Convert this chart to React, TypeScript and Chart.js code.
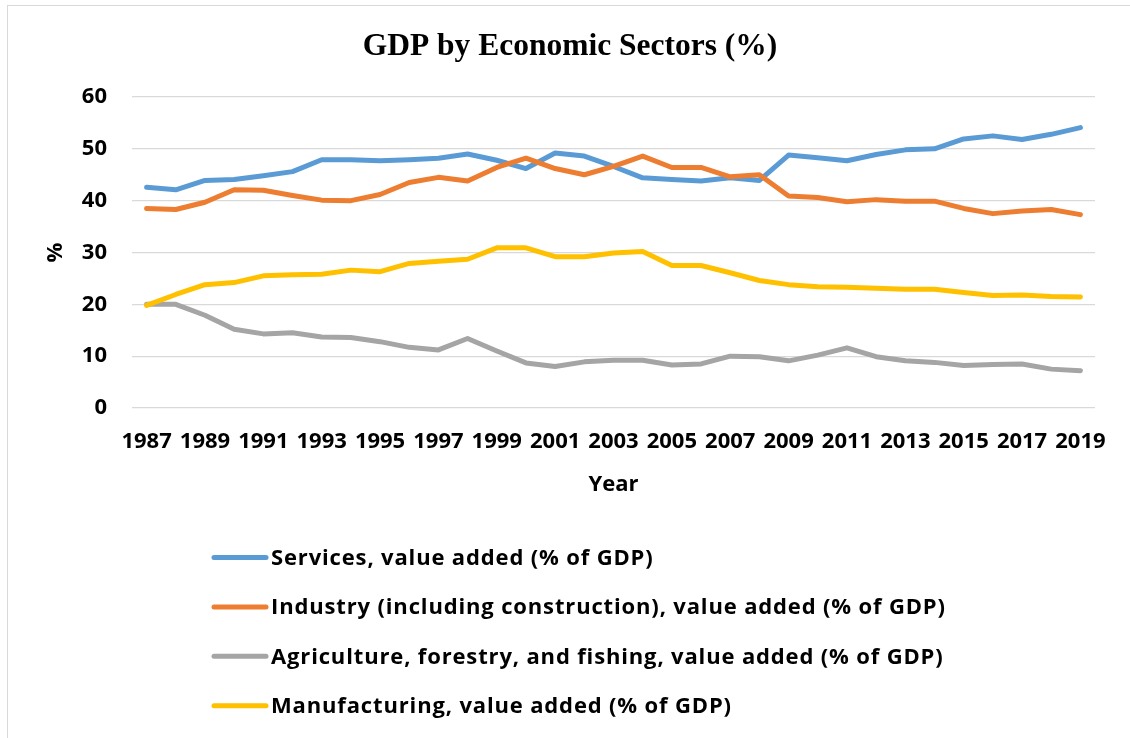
import React, { useEffect, useRef } from "react";
import { Chart, registerables } from "chart.js";

Chart.register(...registerables);

const years = [
  "1987", "1988", "1989", "1990", "1991", "1992", "1993", "1994", "1995", "1996", "1997",
  "1998", "1999", "2000", "2001", "2002", "2003", "2004", "2005", "2006", "2007", "2008",
  "2009", "2010", "2011", "2012", "2013", "2014", "2015", "2016", "2017", "2018", "2019",
];

const services = [
  42.6, 42.1, 43.9, 44.1, 44.8, 45.6, 47.9, 47.9, 47.7, 47.9, 48.2, 49.0,
  47.8, 46.2, 49.2, 48.6, 46.6, 44.4, 44.1, 43.8, 44.4, 43.9,
  48.8, 48.3, 47.7, 48.9, 49.8, 50.0, 51.9, 52.5, 51.8, 52.8, 54.1,
];

const industry = [
  38.5, 38.3, 39.7, 42.1, 42.0, 41.0, 40.1, 40.0, 41.2, 43.5, 44.5, 43.8,
  46.4, 48.2, 46.2, 45.0, 46.6, 48.6, 46.4, 46.4, 44.6, 45.0,
  40.9, 40.6, 39.8, 40.2, 39.9, 39.9, 38.5, 37.5, 38.0, 38.3, 37.3,
];

const agriculture = [
  20.0, 20.0, 17.9, 15.2, 14.3, 14.5, 13.7, 13.6, 12.8, 11.7, 11.2, 13.4,
  11.0, 8.7, 8.0, 8.9, 9.2, 9.2, 8.3, 8.5, 10.0, 9.9,
  9.1, 10.2, 11.6, 9.9, 9.1, 8.8, 8.2, 8.4, 8.5, 7.5, 7.2,
];

const manufacturing = [
  19.8, 21.9, 23.8, 24.2, 25.5, 25.7, 25.8, 26.6, 26.3, 27.9, 28.3, 28.7,
  30.9, 30.9, 29.2, 29.2, 29.9, 30.2, 27.5, 27.5, 26.1, 24.6,
  23.8, 23.4, 23.3, 23.1, 22.9, 22.9, 22.3, 21.7, 21.8, 21.5, 21.4,
];

const seriesLabels = [
  "Services, value added (% of GDP)",
  "Industry (including construction), value added (% of GDP)",
  "Agriculture, forestry, and fishing, value added (% of GDP)",
  "Manufacturing, value added (% of GDP)",
];

const seriesColors = ["#5B9BD5", "#ED7D31", "#A5A5A5", "#FFC000"];

const chartTitle = "GDP by Economic Sectors (%)";

const FONT = "'Open Sans', Lato, 'Liberation Sans', sans-serif";

const decorations = {
  id: "decorations",
  afterDraw(chart: any) {
    const ctx = chart.ctx;
    ctx.save();
    // title
    ctx.font = "bold 31.5px 'Liberation Serif', 'Times New Roman', serif";
    ctx.fillStyle = "#000";
    ctx.textAlign = "center";
    ctx.textBaseline = "middle";
    ctx.fillText(chartTitle, 570, 47);
    // stacked legend
    ctx.font = `bold 22px ${FONT}`;
    ctx.textAlign = "left";
    try {
      (ctx as any).letterSpacing = "0.85px";
    } catch (e) {}
    chart.data.datasets.forEach((ds: any, i: number) => {
      const y = 557.5 + i * 49.4;
      ctx.strokeStyle = ds.borderColor;
      ctx.lineWidth = 5;
      ctx.lineCap = "round";
      ctx.beginPath();
      ctx.moveTo(214, y);
      ctx.lineTo(266, y);
      ctx.stroke();
      ctx.fillStyle = "#000";
      ctx.fillText(ds.label, 271, y + 1);
    });
    try {
      (ctx as any).letterSpacing = "0px";
    } catch (e) {}
    ctx.restore();
  },
};

export default function App() {
  const canvasRef = useRef<HTMLCanvasElement | null>(null);

  useEffect(() => {
    if (!canvasRef.current) return;
    const values = [services, industry, agriculture, manufacturing];
    const tickFont = { family: FONT, size: 22, weight: "bold" as const, lineHeight: 1.2 };
    const chart = new Chart(canvasRef.current, {
      type: "line",
      data: {
        labels: years,
        datasets: values.map((v, i) => ({
          label: seriesLabels[i],
          data: v,
          borderColor: seriesColors[i],
          backgroundColor: seriesColors[i],
          borderWidth: 5,
          pointRadius: 0,
          pointHoverRadius: 0,
          tension: 0,
          borderCapStyle: "round" as const,
          borderJoinStyle: "round" as const,
          fill: false,
          order: 3 - i,
        })),
      },
      options: {
        responsive: false,
        animation: false,
        layout: { padding: { top: 97, left: 0, right: 35, bottom: 240 } },
        plugins: {
          legend: { display: false },
          tooltip: { enabled: false },
          title: { display: false },
        },
        scales: {
          x: {
            type: "category",
            offset: true,
            grid: { display: false, drawTicks: false },
            border: { display: false },
            ticks: {
              autoSkip: false,
              maxRotation: 0,
              minRotation: 0,
              padding: 21,
              color: "#000",
              font: tickFont,
              callback: (_v: any, i: number) => (i % 2 === 0 ? years[i] : ""),
            },
            title: {
              display: true,
              text: "Year",
              color: "#000",
              font: tickFont,
              padding: { top: 13, bottom: 0 },
            },
            afterFit: (scale: any) => {
              scale.height = 90;
            },
          },
          y: {
            min: 0,
            max: 60,
            grid: { color: "#D9D9D9", lineWidth: 1.3, drawTicks: false },
            border: { display: false },
            ticks: {
              stepSize: 10,
              padding: 25,
              color: "#000",
              font: tickFont,
            },
            title: {
              display: true,
              text: "%",
              color: "#000",
              font: tickFont,
              padding: { top: 43, bottom: 0 },
            },
            afterFit: (scale: any) => {
              scale.width = 132;
            },
          },
        },
      },
      plugins: [decorations],
    });
    return () => chart.destroy();
  }, []);

  return (
    <div
      style={{
        position: "fixed",
        left: 0,
        top: 0,
        width: 1130,
        height: 738,
        overflow: "hidden",
        background: "#fff",
      }}
    >
      <div
        style={{
          position: "absolute",
          left: 7,
          top: 5,
          width: 1200,
          height: 800,
          border: "1px solid #D9D9D9",
        }}
      />
      <canvas ref={canvasRef} width={1130} height={738} style={{ position: "absolute", left: 0, top: 0 }} />
    </div>
  );
}
